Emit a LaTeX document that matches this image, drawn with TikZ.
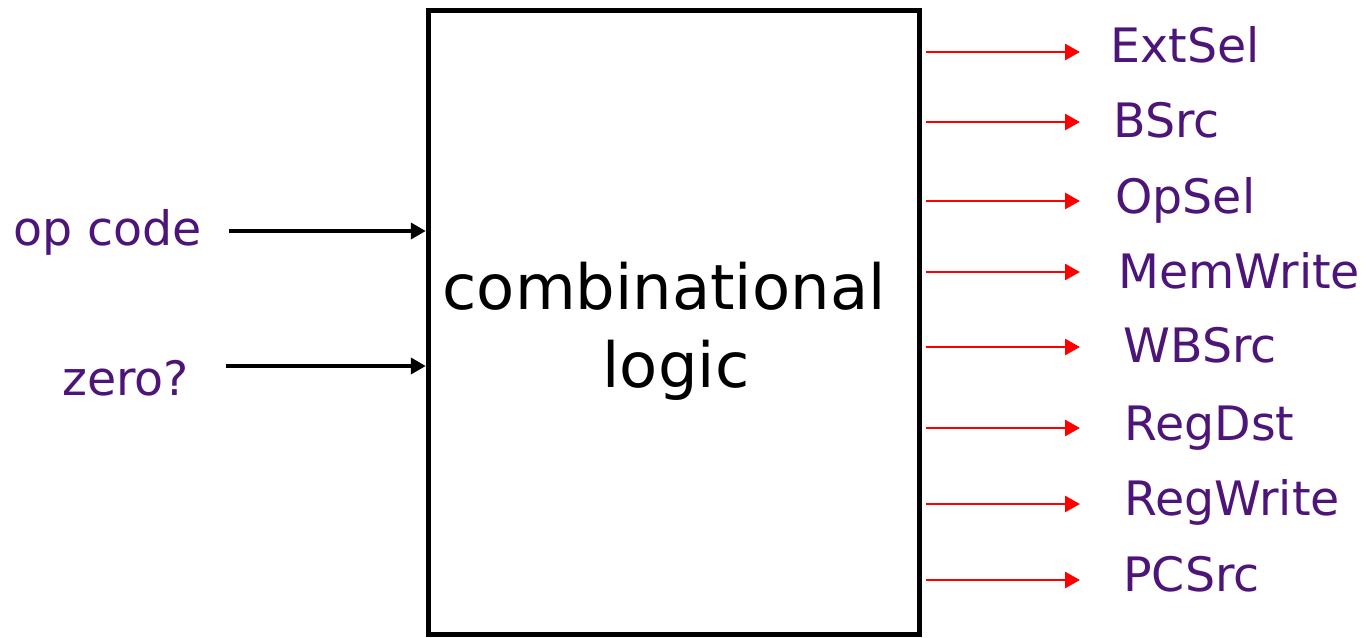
\documentclass[tikz,border=0pt]{standalone}
\usepackage{fontspec}
\setmainfont{DejaVu Sans}
\usetikzlibrary{arrows.meta,calc}
\definecolor{cP}{HTML}{4E1579}
\definecolor{cR}{HTML}{FF0000}
\tikzset{
  blk/.style={draw=black,line width=0.11cm,inner sep=0pt,
              minimum width=9.82cm,minimum height=12.48cm},
  fn/.style={anchor=base,inner sep=0pt,font=\fontsize{35.5}{42}\selectfont},
  sig/.style={anchor=base west,inner sep=0pt,text=cP,
              font=\fontsize{27}{32}\selectfont},
  inarrow/.style={-{Triangle[length=0.3cm,width=0.32cm]},line width=0.09cm,black},
  outarrow/.style={-{Triangle[length=0.3cm,width=0.32cm]},line width=0.055cm,cR,
              shorten <=0.08cm},
}
\begin{document}
\begin{tikzpicture}[x=0.02cm,y=-0.02cm]
  \useasboundingbox (0,0) rectangle (1367,637);
  % the logic block
  \node[blk] (box) at (674,322.5) {};
  \node[fn] (fn1) at (664,309) {combinational};
  \node[fn] (fn2) at (676,387) {logic};
  % inputs
  \node[sig] (opc) at (13,245) {op code};
  \node[sig] (zro) at (62,395) {zero?};
  \coordinate (i1) at (229,231);
  \coordinate (i2) at (226,366);
  \draw[inarrow] (i1) -- (i1 -| box.west);
  \draw[inarrow] (i2) -- (i2 -| box.west);
  % control outputs
  \foreach \y/\b/\x/\txt [count=\i] in {52/62/1110/ExtSel,122/137/1113/BSrc,
      201/213/1115/OpSel,272/288/1118/MemWrite,347/362/1123/WBSrc,
      428/440/1124/RegDst,504/515/1124/RegWrite,580/591/1123/PCSrc}{
    \coordinate (t\i) at (1080,\y);
    \node[sig] (s\i) at (\x,\b) {\txt};
    \draw[outarrow] (box.east |- t\i) -- (t\i);
  }
\end{tikzpicture}
\end{document}
